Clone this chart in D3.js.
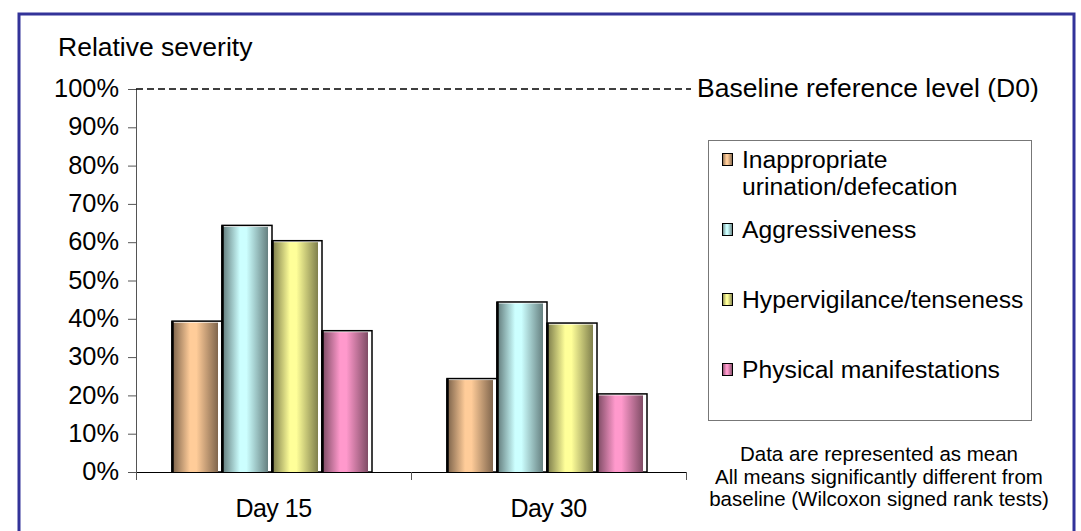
<!DOCTYPE html>
<html>
<head>
<meta charset="utf-8">
<script src="https://cdn.jsdelivr.net/npm/d3@7"></script>
<style>
  body { margin: 0; background: #fff; }
  svg text { font-family: "Liberation Sans", Arial, sans-serif; fill: #000; }
</style>
</head>
<body>
<div id="chart"></div>
<script>

// categories and series (in %)
var categories = ["Day 15", "Day 30"];
var seriesNames = ["Inappropriate urination/defecation", "Aggressiveness", "Hypervigilance/tenseness", "Physical manifestations"];
var inappropriate = [39, 24];
var aggressiveness = [64, 44];
var hypervigilance = [60, 38.5];
var physical = [36.5, 20];
var yTicks = [0, 10, 20, 30, 40, 50, 60, 70, 80, 90, 100];
var baselineLevel = 100;

var seriesColors = ["#FFCC99", "#CCFFFF", "#FFFF99", "#FF99CC"];
var legendLines = [["Inappropriate", "urination/defecation"], ["Aggressiveness"], ["Hypervigilance/tenseness"], ["Physical manifestations"]];
var notes = ["Data are represented as mean", "All means significantly different from", "baseline (Wilcoxon signed rank tests)"];


BarChart = function(_parentElement){
	this.parentElement = _parentElement;
	this.initVis();
}


/*
 * static stuff: svg, frame, scales, axes
 */
BarChart.prototype.initVis = function(){
	var vis = this;

	vis.width = 1081;
	vis.height = 531;
	vis.plot = {left: 136, right: 686, top: 89, bottom: 472};

	vis.svg = d3.select("#" + vis.parentElement).append("svg")
		.attr("width", vis.width)
		.attr("height", vis.height);

	// gradients for the shaded columns
	var defs = vis.svg.append("defs");
	seriesColors.forEach(function(c, i){
		var light = d3.rgb(c);
		var dark = d3.rgb(light.r * 0.5, light.g * 0.5, light.b * 0.5);
		var g = defs.append("linearGradient")
			.attr("id", "grad" + i)
			.attr("x1", "0%").attr("x2", "100%")
			.attr("y1", "0%").attr("y2", "0%");
		g.append("stop").attr("offset", "0%").attr("stop-color", dark);
		g.append("stop").attr("offset", "38%").attr("stop-color", light);
		g.append("stop").attr("offset", "52%").attr("stop-color", light);
		g.append("stop").attr("offset", "100%").attr("stop-color", dark);
	});

	// blue frame
	vis.svg.append("rect")
		.attr("x", 19).attr("y", 14)
		.attr("width", 1055).attr("height", 540)
		.attr("fill", "none")
		.attr("stroke", "#333399")
		.attr("stroke-width", 3);

	// scales
	vis.y = d3.scaleLinear()
		.domain([0, 100])
		.range([vis.plot.bottom, vis.plot.top]);

	vis.x0 = d3.scaleBand()
		.domain(categories)
		.range([vis.plot.left, vis.plot.right]);

	vis.x1 = d3.scaleBand()
		.domain(d3.range(seriesNames.length))
		.range([0, 200]);

	vis.groupOffset = (vis.x0.bandwidth() - 200) / 2 - 1.5;

	// axes
	vis.yAxis = d3.axisLeft(vis.y)
		.tickValues(yTicks)
		.tickFormat(function(d){ return d + "%"; })
		.tickSize(8)
		.tickSizeOuter(0)
		.tickPadding(9);

	vis.xAxis = d3.axisBottom(vis.x0)
		.tickSize(0)
		.tickPadding(27);

	//title
	vis.svg.append("text")
		.text("Relative severity")
		.attr("x", 58)
		.attr("y", 56)
		.style("font-size", "26.5px");

	vis.wrangleData();
}


BarChart.prototype.wrangleData = function(){
	var vis = this;

	var cols = [inappropriate, aggressiveness, hypervigilance, physical];
	vis.displayData = [];
	categories.forEach(function(cat, ci){
		cols.forEach(function(col, si){
			vis.displayData.push({cat: cat, series: si, value: col[ci]});
		});
	});

	vis.updateVis();
}


BarChart.prototype.updateVis = function(){
	var vis = this;

	// y axis
	var gy = vis.svg.append("g")
		.attr("class", "y-axis axis")
		.attr("transform", "translate(" + vis.plot.left + ",0)")
		.call(vis.yAxis);
	gy.select(".domain").remove();
	gy.selectAll("line").attr("stroke", "#555");
	gy.selectAll("text")
		.style("font-size", "25.4px")
		.attr("dy", "0.3em");

	vis.svg.append("line")
		.attr("x1", vis.plot.left + 0.5).attr("x2", vis.plot.left + 0.5)
		.attr("y1", vis.plot.top).attr("y2", vis.plot.bottom + 8)
		.attr("stroke", "#555");

	// baseline D0 dashed line
	vis.svg.append("line")
		.attr("x1", vis.plot.left).attr("x2", 691)
		.attr("y1", vis.y(baselineLevel)).attr("y2", vis.y(baselineLevel))
		.attr("stroke", "#000")
		.attr("stroke-width", 1.5)
		.attr("stroke-dasharray", "7,4");

	vis.svg.append("text")
		.text("Baseline reference level (D0)")
		.attr("x", 697)
		.attr("y", vis.y(baselineLevel) + 8)
		.style("font-size", "26.5px");

	// bars: white 3D outline behind, shaded front face
	var bw = vis.x1.bandwidth();
	var bars = vis.svg.selectAll(".bar")
		.data(vis.displayData)
		.enter().append("g")
		.attr("class", "bar")
		.attr("transform", function(d){
			return "translate(" + (vis.x0(d.cat) + vis.groupOffset + vis.x1(d.series)) + ",0)";
		});

	bars.append("rect")
		.attr("x", 0)
		.attr("y", function(d){ return vis.y(d.value) - 1.5; })
		.attr("width", bw)
		.attr("height", function(d){ return vis.plot.bottom - vis.y(d.value) + 1.5; })
		.attr("fill", "#fff")
		.attr("stroke", "#000")
		.attr("stroke-width", 1.5);

	bars.append("rect")
		.attr("x", 1)
		.attr("y", function(d){ return vis.y(d.value); })
		.attr("width", bw - 5)
		.attr("height", function(d){ return vis.plot.bottom - vis.y(d.value); })
		.attr("fill", function(d){ return "url(#grad" + d.series + ")"; });

	bars.append("line")
		.attr("x1", 0.5).attr("x2", 0.5)
		.attr("y1", function(d){ return vis.y(d.value) - 1.5; })
		.attr("y2", vis.plot.bottom)
		.attr("stroke", "#000")
		.attr("stroke-width", 2.5);

	// x axis
	var gx = vis.svg.append("g")
		.attr("class", "x-axis axis")
		.attr("transform", "translate(0," + vis.plot.bottom + ")")
		.call(vis.xAxis);
	gx.select(".domain").remove();
	gx.selectAll("text")
		.style("font-size", "25px")
		.style("letter-spacing", "-0.5px");

	vis.svg.append("line")
		.attr("x1", vis.plot.left).attr("x2", vis.plot.right)
		.attr("y1", vis.plot.bottom + 0.5).attr("y2", vis.plot.bottom + 0.5)
		.attr("stroke", "#000");

	var edges = categories.map(function(c){ return vis.x0(c); }).concat([vis.plot.right]);
	vis.svg.selectAll(".xtick")
		.data(edges)
		.enter().append("line")
		.attr("class", "xtick")
		.attr("x1", function(d){ return d + 0.5; })
		.attr("x2", function(d){ return d + 0.5; })
		.attr("y1", vis.plot.bottom)
		.attr("y2", vis.plot.bottom + 8)
		.attr("stroke", "#555");

	// legend
	var leg = vis.svg.append("g").attr("class", "legend");
	leg.append("rect")
		.attr("x", 708.5).attr("y", 140.5)
		.attr("width", 323).attr("height", 280)
		.attr("fill", "#fff")
		.attr("stroke", "#777");

	var item = leg.selectAll(".item")
		.data(legendLines)
		.enter().append("g")
		.attr("class", "item")
		.attr("transform", function(d, i){
			return "translate(0," + (168 + i * 70) + ")";
		});

	item.append("rect")
		.attr("x", 722.5).attr("y", -14.5)
		.attr("width", 10).attr("height", 12)
		.attr("fill", function(d, i){ return "url(#grad" + i + ")"; })
		.attr("stroke", "#000");

	item.selectAll("text")
		.data(function(d){ return d; })
		.enter().append("text")
		.attr("x", 742)
		.attr("y", function(d, j){ return j * 27; })
		.style("font-size", "24.7px")
		.text(function(d){ return d; });

	// notes
	vis.svg.selectAll(".note")
		.data(notes)
		.enter().append("text")
		.attr("class", "note")
		.attr("x", 879)
		.attr("y", function(d, i){ return 461 + i * 22.5; })
		.attr("text-anchor", "middle")
		.style("font-size", "20.5px")
		.text(function(d){ return d; });
}

var chart = new BarChart("chart");

</script>
</body>
</html>
